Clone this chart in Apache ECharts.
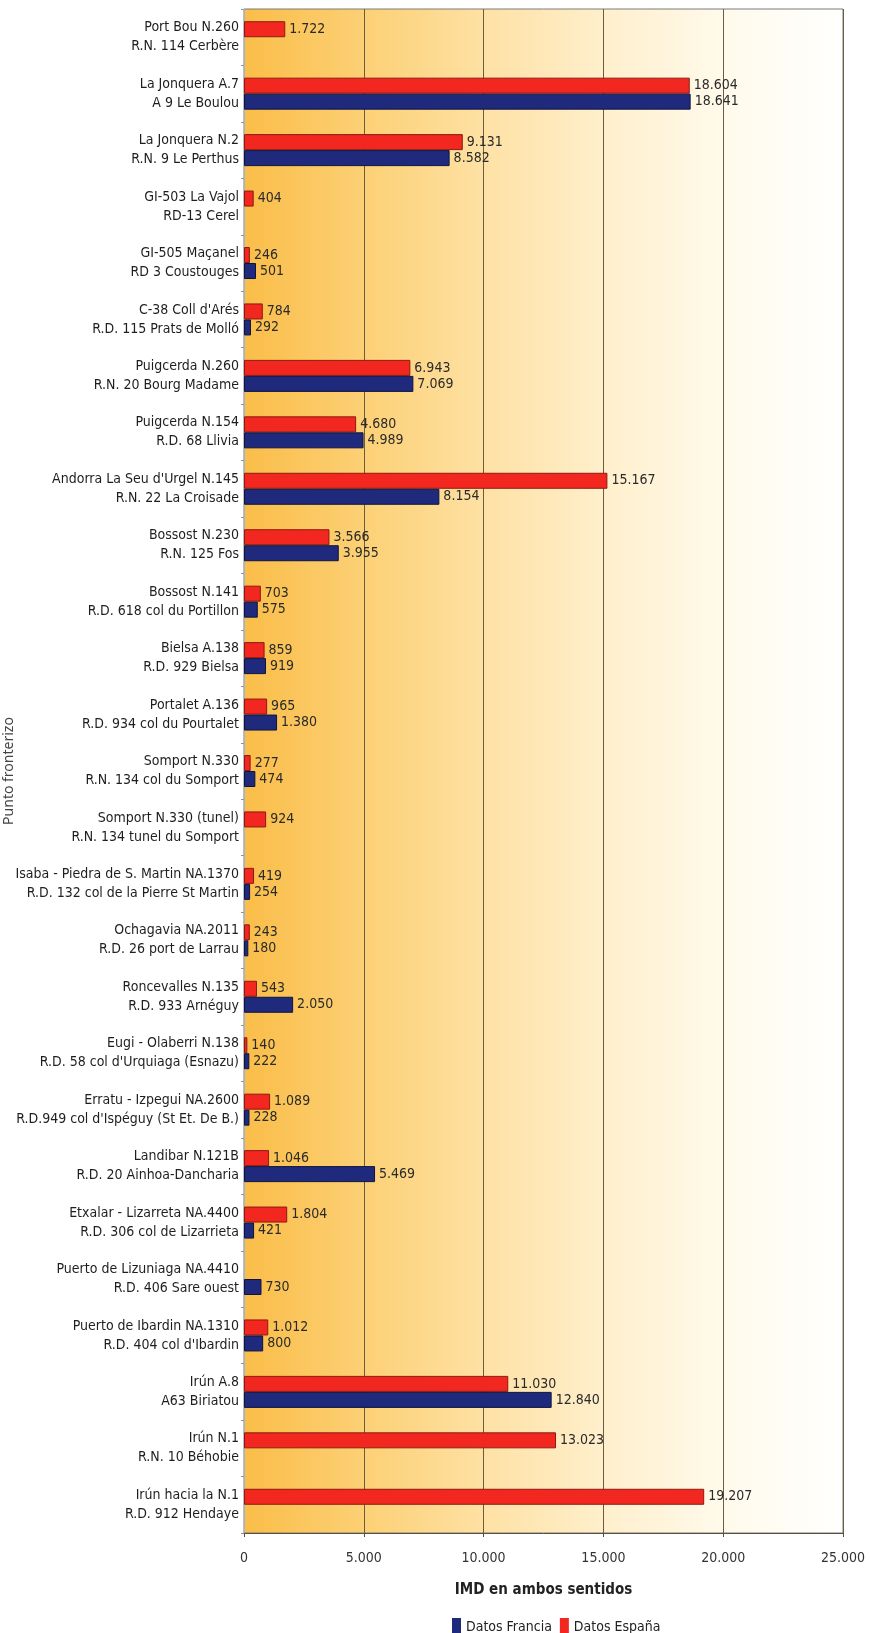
<!DOCTYPE html>
<html>
<head>
<meta charset="utf-8">
<script src="https://cdn.jsdelivr.net/npm/echarts@6/dist/echarts.min.js"></script>
<style>
  html, body { margin: 0; padding: 0; background: #fff; }
  #chart { width: 870px; height: 1633px; }
</style>
</head>
<body>
<div id="chart"></div>
<script>
const pasosEspana = [
  "Port Bou N.260", "La Jonquera A.7", "La Jonquera N.2", "GI-503 La Vajol",
  "GI-505 Maçanel", "C-38 Coll d'Arés", "Puigcerda N.260", "Puigcerda N.154",
  "Andorra La Seu d'Urgel N.145", "Bossost N.230", "Bossost N.141", "Bielsa A.138",
  "Portalet A.136", "Somport N.330", "Somport N.330 (tunel)",
  "Isaba - Piedra de S. Martin NA.1370", "Ochagavia NA.2011", "Roncevalles N.135",
  "Eugi - Olaberri N.138", "Erratu - Izpegui NA.2600", "Landibar N.121B",
  "Etxalar - Lizarreta NA.4400", "Puerto de Lizuniaga NA.4410",
  "Puerto de Ibardin NA.1310", "Irún A.8", "Irún N.1", "Irún hacia la N.1"
];
const pasosFrancia = [
  "R.N. 114 Cerbère", "A 9 Le Boulou", "R.N. 9 Le Perthus", "RD-13 Cerel",
  "RD 3 Coustouges", "R.D. 115 Prats de Molló", "R.N. 20 Bourg Madame", "R.D. 68 Llivia",
  "R.N. 22 La Croisade", "R.N. 125 Fos", "R.D. 618 col du Portillon", "R.D. 929 Bielsa",
  "R.D. 934 col du Pourtalet", "R.N. 134 col du Somport", "R.N. 134 tunel du Somport",
  "R.D. 132 col de la Pierre St Martin", "R.D. 26 port de Larrau", "R.D. 933 Arnéguy",
  "R.D. 58 col d'Urquiaga (Esnazu)", "R.D.949 col d'Ispéguy (St Et. De B.)",
  "R.D. 20 Ainhoa-Dancharia", "R.D. 306 col de Lizarrieta", "R.D. 406 Sare ouest",
  "R.D. 404 col d'Ibardin", "A63 Biriatou", "R.N. 10 Béhobie", "R.D. 912 Hendaye"
];
const datosEspana = [
  1722, 18604, 9131, 404, 246, 784, 6943, 4680, 15167, 3566, 703, 859, 965, 277,
  924, 419, 243, 543, 140, 1089, 1046, 1804, null, 1012, 11030, 13023, 19207
];
const datosFrancia = [
  null, 18641, 8582, null, 501, 292, 7069, 4989, 8154, 3955, 575, 919, 1380, 474,
  null, 254, 180, 2050, 222, 228, 5469, 421, 730, 800, 12840, null, null
];
const xTicks = [0, 5000, 10000, 15000, 20000, 25000];

const categories = pasosEspana.map((p, i) => p + "\n" + pasosFrancia[i]);
const narrow = "'Liberation Sans Narrow', 'Arial Narrow', 'DejaVu Sans Condensed', sans-serif";
const fmt = (v) => String(v).replace(/\B(?=(\d{3})+(?!\d))/g, ".");

const chart = echarts.init(document.getElementById("chart"));

const barLabel = {
  show: true,
  position: "right",
  distance: 4,
  color: "#2a2a2a",
  fontFamily: narrow,
  fontSize: 14,
  formatter: (p) => fmt(p.value),
};

chart.setOption({
  animation: false,
  backgroundColor: "#ffffff",
  grid: {
    left: 244,
    right: 27,
    top: 9,
    bottom: 100,
    containLabel: false,
    outerBoundsMode: "none",
    show: true,
    borderColor: "#7a7a7a",
    borderWidth: 1,
    backgroundColor: new echarts.graphic.LinearGradient(0, 0, 1, 0, [
      { offset: 0, color: "#fabd48" },
      { offset: 0.2, color: "#fcd075" },
      { offset: 0.4, color: "#fee1a4" },
      { offset: 0.6, color: "#ffefcc" },
      { offset: 0.8, color: "#fffaeb" },
      { offset: 1, color: "#ffffff" },
    ]),
  },
  legend: {
    data: ["Datos Francia", "Datos España"],
    left: 447,
    top: 1613,
    itemWidth: 9,
    itemHeight: 18,
    itemGap: 8,
    icon: "rect",
    itemStyle: { borderWidth: 0 },
    textStyle: { fontFamily: narrow, fontSize: 14, color: "#222" },
  },
  xAxis: {
    type: "value",
    min: 0,
    max: 25000,
    interval: 5000,
    name: "IMD en ambos sentidos",
    nameLocation: "middle",
    nameGap: 50,
    nameMoveOverlap: false,
    nameTextStyle: { fontFamily: narrow, fontSize: 15, fontWeight: "bold", color: "#222" },
    axisLine: { show: true, lineStyle: { color: "#5a5040" } },
    axisTick: { show: true, length: 4, lineStyle: { color: "#5a5040" } },
    axisLabel: {
      margin: 18,
      fontFamily: narrow,
      fontSize: 14,
      color: "#333",
      formatter: (v) => (xTicks.includes(v) ? fmt(v) : ""),
    },
    splitLine: { show: true, lineStyle: { color: "#6b5d40", width: 1 } },
  },
  yAxis: {
    type: "category",
    inverse: true,
    data: categories,
    name: "Punto fronterizo",
    nameLocation: "middle",
    nameRotate: 90,
    nameGap: 228,
    nameMoveOverlap: false,
    nameTextStyle: { fontFamily: "'Noto Sans', sans-serif", fontSize: 14, color: "#444" },
    axisLine: { show: true, lineStyle: { color: "#a7b3bd" } },
    axisTick: { show: true, length: 3, lineStyle: { color: "#8a96a0" } },
    axisLabel: {
      margin: 5,
      fontFamily: narrow,
      fontSize: 14,
      lineHeight: 19,
      color: "#1e1e1e",
      align: "right",
    },
  },
  series: [
    {
      name: "Datos España",
      type: "bar",
      data: datosEspana,
      barWidth: 16,
      barGap: "0%",
      itemStyle: { color: "#f2271f", borderColor: "#8c1a12", borderWidth: 1 },
      label: barLabel,
    },
    {
      name: "Datos Francia",
      type: "bar",
      data: datosFrancia,
      barWidth: 16,
      barGap: "0%",
      itemStyle: { color: "#1f2a7c", borderColor: "#0e1440", borderWidth: 1 },
      label: barLabel,
    },
  ],
});
</script>
</body>
</html>
